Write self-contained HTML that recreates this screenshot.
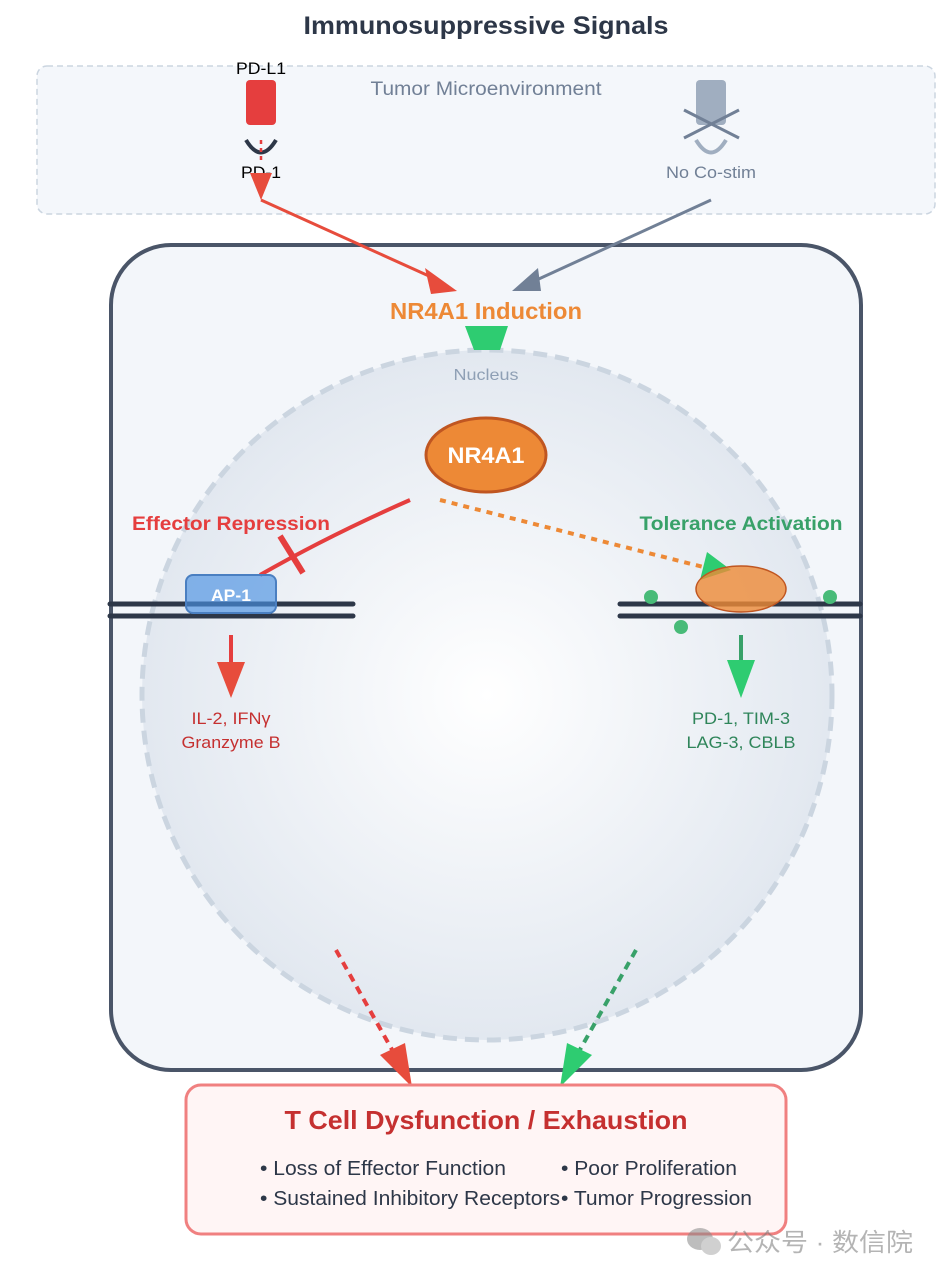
<!DOCTYPE html>
<html><head><meta charset="utf-8"><style>
html,body{margin:0;padding:0;background:#fff;}
svg{display:block;font-family:"Liberation Sans",Arial,sans-serif;}
</style></head><body>
<svg width="943" height="1280" viewBox="0 0 943 1280" xmlns="http://www.w3.org/2000/svg">
<defs>
<radialGradient id="ng" cx="50%" cy="50%" r="50%">
<stop offset="0" stop-color="#ffffff"/><stop offset="1" stop-color="#e2e8f0"/>
</radialGradient>
</defs>
<text x="486" y="34" text-anchor="middle" font-size="25" font-weight="bold" fill="#2d3748" textLength="365" lengthAdjust="spacingAndGlyphs">Immunosuppressive Signals</text>
<rect x="37" y="66" width="898" height="148" rx="10" fill="#f4f7fb" stroke="#cbd5e0" stroke-width="1.5" stroke-dasharray="6,4"/>
<text x="486" y="95" text-anchor="middle" font-size="19" fill="#718096" textLength="231" lengthAdjust="spacingAndGlyphs">Tumor Microenvironment</text>
<text x="261" y="74" text-anchor="middle" font-size="17" fill="#000" textLength="50" lengthAdjust="spacingAndGlyphs">PD-L1</text>
<rect x="246" y="80" width="30" height="45" rx="4" fill="#e53e3e"/>
<path d="M246 140 Q261 165 276 140" fill="none" stroke="#2d3748" stroke-width="4"/>
<line x1="261" y1="140" x2="261" y2="160" stroke="#e53e3e" stroke-width="2.5" stroke-dasharray="4,4"/>
<text x="261" y="178" text-anchor="middle" font-size="17" fill="#000" textLength="40" lengthAdjust="spacingAndGlyphs">PD-1</text>
<polygon points="250,173 272,173 261,200" fill="#e74c3c"/>
<rect x="696" y="80" width="30" height="45" rx="4" fill="#a0aec0"/>
<path d="M696 140 Q711 165 726 140" fill="none" stroke="#a0aec0" stroke-width="4"/>
<line x1="684" y1="110" x2="739" y2="138" stroke="#718096" stroke-width="3"/>
<line x1="684" y1="138" x2="739" y2="110" stroke="#718096" stroke-width="3"/>
<text x="711" y="178" text-anchor="middle" font-size="17" fill="#718096" textLength="90" lengthAdjust="spacingAndGlyphs">No Co-stim</text>
<rect x="111" y="245" width="750" height="825" rx="60" fill="#f3f6fa" stroke="#4a5568" stroke-width="4"/>
<line x1="261" y1="200" x2="440" y2="281" stroke="#e74c3c" stroke-width="3"/>
<polygon points="425,268 457,291 431,294" fill="#e74c3c"/>
<line x1="711" y1="200" x2="530" y2="283" stroke="#718096" stroke-width="3"/>
<polygon points="538,268 512,291 541,291" fill="#718096"/>
<circle cx="487" cy="695" r="345" fill="url(#ng)" stroke="#cbd5e0" stroke-width="5" stroke-dasharray="14,8"/>
<polygon points="465,326 508,326 500,350 474,350" fill="#2ecc71"/>
<text x="486" y="319" text-anchor="middle" font-size="23" font-weight="bold" fill="#ed8936" textLength="192" lengthAdjust="spacingAndGlyphs">NR4A1 Induction</text>
<text x="486" y="380" text-anchor="middle" font-size="16" fill="#8fa0b5" textLength="65" lengthAdjust="spacingAndGlyphs">Nucleus</text>
<ellipse cx="486" cy="455" rx="60" ry="37" fill="#ed8936" stroke="#c05621" stroke-width="3"/>
<text x="486" y="463" text-anchor="middle" font-size="22" font-weight="bold" fill="#fff" textLength="77" lengthAdjust="spacingAndGlyphs">NR4A1</text>
<text x="231" y="530" text-anchor="middle" font-size="19" font-weight="bold" fill="#e53e3e" textLength="198" lengthAdjust="spacingAndGlyphs">Effector Repression</text>
<text x="741" y="530" text-anchor="middle" font-size="19" font-weight="bold" fill="#38a169" textLength="203" lengthAdjust="spacingAndGlyphs">Tolerance Activation</text>
<path d="M410 500 Q330 535 260 575" fill="none" stroke="#e53e3e" stroke-width="4"/>
<line x1="280" y1="536" x2="303" y2="573" stroke="#e53e3e" stroke-width="6"/>
<line x1="110" y1="604" x2="353" y2="604" stroke="#2d3748" stroke-width="5" stroke-linecap="round"/>
<line x1="110" y1="616" x2="353" y2="616" stroke="#2d3748" stroke-width="5" stroke-linecap="round"/>
<rect x="186" y="575" width="90" height="38" rx="7" fill="#4a90e2" fill-opacity="0.65" stroke="#4a7fc1" stroke-width="2"/>
<text x="231" y="601" text-anchor="middle" font-size="17" font-weight="bold" fill="#fff" textLength="40" lengthAdjust="spacingAndGlyphs">AP-1</text>
<line x1="231" y1="635" x2="231" y2="665" stroke="#e53e3e" stroke-width="4"/>
<polygon points="217,662 245,662 231,698" fill="#e74c3c"/>
<text x="231" y="724" text-anchor="middle" font-size="17" fill="#c53030" textLength="79" lengthAdjust="spacingAndGlyphs">IL-2, IFNγ</text>
<text x="231" y="748" text-anchor="middle" font-size="17" fill="#c53030" textLength="99" lengthAdjust="spacingAndGlyphs">Granzyme B</text>
<line x1="440" y1="500" x2="715" y2="570" stroke="#ed8936" stroke-width="4" stroke-dasharray="6,6"/>
<line x1="620" y1="604" x2="860" y2="604" stroke="#2d3748" stroke-width="5" stroke-linecap="round"/>
<line x1="620" y1="616" x2="860" y2="616" stroke="#2d3748" stroke-width="5" stroke-linecap="round"/>
<circle cx="651" cy="597" r="7" fill="#48bb78"/>
<circle cx="830" cy="597" r="7" fill="#48bb78"/>
<circle cx="681" cy="627" r="7" fill="#48bb78"/>
<polygon points="707,552 731,570 700,580" fill="#2ecc71"/>
<ellipse cx="741" cy="589" rx="45" ry="23" fill="#ed8936" fill-opacity="0.8" stroke="#c05621" stroke-width="1.5"/>
<line x1="741" y1="635" x2="741" y2="665" stroke="#38a169" stroke-width="4"/>
<polygon points="727,660 755,660 741,698" fill="#2ecc71"/>
<text x="741" y="724" text-anchor="middle" font-size="17" fill="#2f855a" textLength="98" lengthAdjust="spacingAndGlyphs">PD-1, TIM-3</text>
<text x="741" y="748" text-anchor="middle" font-size="17" fill="#2f855a" textLength="109" lengthAdjust="spacingAndGlyphs">LAG-3, CBLB</text>
<line x1="336" y1="950" x2="395" y2="1055" stroke="#e53e3e" stroke-width="4" stroke-dasharray="8,6"/>
<polygon points="380,1055 405,1043 412,1087" fill="#e74c3c"/>
<line x1="636" y1="950" x2="577" y2="1055" stroke="#38a169" stroke-width="4" stroke-dasharray="8,6"/>
<polygon points="567,1043 592,1055 560,1087" fill="#2ecc71"/>
<rect x="186" y="1085" width="600" height="149" rx="15" fill="#fff5f5" stroke="#f08080" stroke-width="3"/>
<text x="486" y="1129" text-anchor="middle" font-size="26" font-weight="bold" fill="#c53030" textLength="403" lengthAdjust="spacingAndGlyphs">T Cell Dysfunction / Exhaustion</text>
<text x="260" y="1175" font-size="20" fill="#2d3748" textLength="246" lengthAdjust="spacingAndGlyphs">• Loss of Effector Function</text>
<text x="561" y="1175" font-size="20" fill="#2d3748" textLength="176" lengthAdjust="spacingAndGlyphs">• Poor Proliferation</text>
<text x="260" y="1205" font-size="20" fill="#2d3748" textLength="300" lengthAdjust="spacingAndGlyphs">• Sustained Inhibitory Receptors</text>
<text x="561" y="1205" font-size="20" fill="#2d3748" textLength="191" lengthAdjust="spacingAndGlyphs">• Tumor Progression</text>
<g opacity="0.55">
<ellipse cx="700" cy="1239" rx="13" ry="11" fill="#888"/>
<ellipse cx="711" cy="1246" rx="10" ry="9" fill="#aaa"/>
<text x="727" y="1251" font-family="'Liberation Sans','Noto Sans CJK SC',sans-serif" font-size="25" fill="#777" textLength="186" lengthAdjust="spacingAndGlyphs">公众号 · 数信院</text>
</g>
</svg>
</body></html>
